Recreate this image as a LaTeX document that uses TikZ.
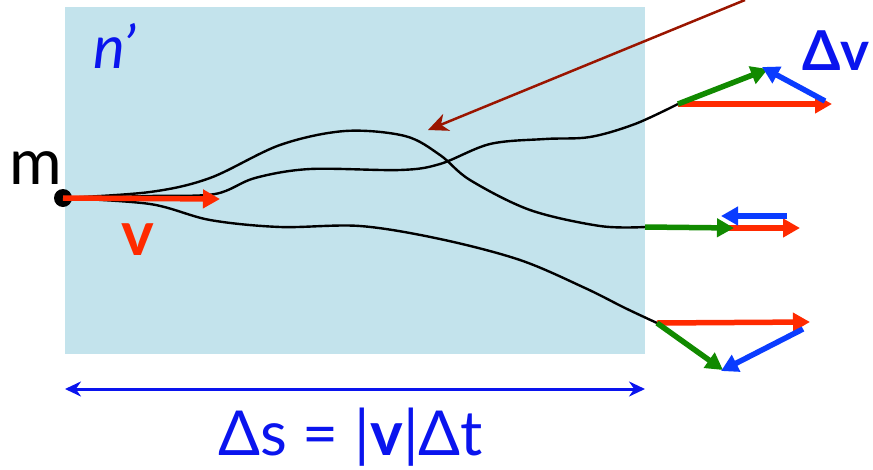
\documentclass[tikz,border=0pt]{standalone}
\usepackage{fontspec}
\setmainfont{Lato}
\usetikzlibrary{arrows.meta}
\definecolor{bgblue}{HTML}{C3E3EC}
\definecolor{vred}{HTML}{FF2A00}
\definecolor{vgreen}{HTML}{118A00}
\definecolor{vblue}{HTML}{0A3CFF}
\definecolor{tblue}{HTML}{0A14EE}
\definecolor{brown}{HTML}{9A1500}
\tikzset{
  vec/.style={line width=5.5pt, -{Triangle[length=17pt,width=18pt]}},
  path/.style={line width=2.4pt, black},
}
\begin{document}
\begin{tikzpicture}[x=1pt,y=-1pt]
\useasboundingbox (0,0) rectangle (873,469);
\fill[bgblue] (65,7) rectangle (645,354);
% named points
\coordinate (m) at (63,198);
\coordinate (e1) at (645,227);
\coordinate (e2) at (678,104);
\coordinate (e3) at (657,323);
% trajectories
\draw[path] plot[smooth,tension=0.55] coordinates {(m) (150,192) (210,178) (280,145) (345,131) (405,136) (440,155) (470,180) (530,210) (600,226) (e1)};
\draw[path] plot[smooth,tension=0.55] coordinates {(m) (150,196) (215,194) (255,178) (310,169) (400,170) (440,164) (490,144) (545,139) (590,137) (635,124) (e2)};
\draw[path] plot[smooth,tension=0.55] coordinates {(m) (150,204) (210,220) (280,227) (360,226) (440,239) (520,260) (585,288) (625,308) (e3)};
% mass
\fill[black] (m) circle (9pt);
\node[font=\fontsize{64}{68}\selectfont, anchor=base west, inner sep=0pt] (mlab) at (9,184) {m};
% v vector
\coordinate (vend) at (220,199);
\draw[vec, vred] (m) -- (vend);
\node[font=\fontsize{62}{66}\selectfont\bfseries, text=vred, anchor=base west, inner sep=0pt] (vlab) at (121,255) {v};
\node[font=\fontsize{60}{64}\selectfont\itshape, text=tblue, anchor=base west, inner sep=0pt] (nlab) at (93,68) {n'};
% brown arrow
\coordinate (bs) at (745,0);
\coordinate (be) at (428,130);
\draw[brown, line width=2.5pt, -{Stealth[length=20pt,width=18pt,inset=6pt]}] (bs) -- (be);
% top set
\coordinate (g1) at (768,69);
\coordinate (r1) at (832,104);
\coordinate (b1s) at (825,101);
\draw[vec, vred] (e2) -- (r1);
\draw[vec, vgreen] (e2) -- (g1);
\draw[vec, vblue] (b1s) -- (762,67);
% middle set
\coordinate (g2) at (734,228);
\draw[vec, vred] (722,228) -- (800,228);
\draw[vec, vgreen] (e1) -- (g2);
\draw[vec, vblue] (787,216) -- (721,216);
% bottom set
\draw[vec, vred] (e3) -- (810,322);
\draw[vec, vgreen] (e3) -- (723,370);
\draw[vec, vblue] (803,329) -- (721,371);
\node[font=\fontsize{55}{58}\selectfont\bfseries, text=tblue, anchor=base west, inner sep=0pt] (dv) at (802,70) {Δv};
% bottom double arrow
\coordinate (ds1) at (65,389);
\coordinate (ds2) at (645,389);
\draw[tblue, line width=3pt, {Stealth[length=16pt,width=15pt]}-{Stealth[length=16pt,width=15pt]}] (ds1) -- (ds2);
\node[font=\fontsize{62}{66}\selectfont, text=tblue, anchor=base west, inner sep=0pt] (eq) at (218,455) {Δs = |\textbf{v}|Δt};
\end{tikzpicture}
\end{document}
